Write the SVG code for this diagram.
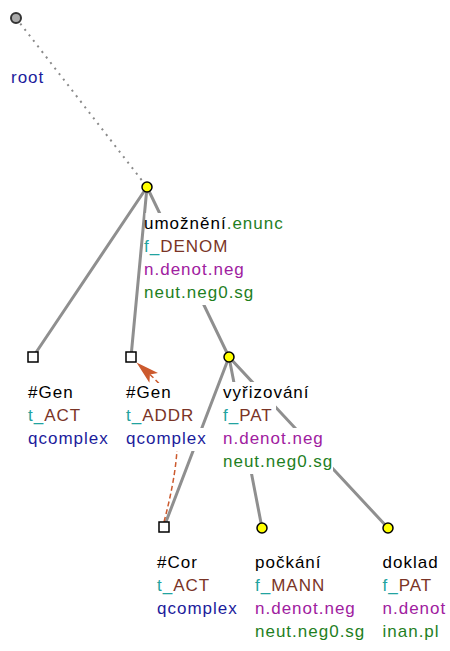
<svg xmlns="http://www.w3.org/2000/svg" width="450" height="651" viewBox="0 0 450 651">
<style>
text{font-family:"Liberation Sans",Arial,sans-serif;font-size:17px;letter-spacing:1px}
.bg{fill:#fff}
.k{fill:#000}.g{fill:#1f7f1f}.t{fill:#22a3a0}.b{fill:#7a3426}.m{fill:#a020a0}.n{fill:#1c1c9c}
.e{stroke:#8f8f8f;stroke-width:3;fill:none;stroke-linecap:round}
.y{fill:#ffff00;stroke:#000;stroke-width:1.5}
.s{fill:#fff;stroke:#000;stroke-width:1.5}
</style>
<rect width="450" height="651" fill="#fff"/>
<g id="connectors">
<line x1="16" y1="18" x2="147" y2="187" stroke="#8a8a8a" stroke-width="2" stroke-dasharray="2 5"/>
<line class="e" x1="147" y1="187" x2="33" y2="357"/>
<line class="e" x1="147" y1="187" x2="131" y2="357"/>
<line class="e" x1="147" y1="187" x2="229" y2="357"/>
<line class="e" x1="229" y1="357" x2="164" y2="527"/>
<line class="e" x1="229" y1="357" x2="262" y2="528"/>
<line class="e" x1="229" y1="357" x2="388" y2="528"/>
<path d="M164,522 C189.3,425.3 175,397 149.9,374.5" fill="none" stroke="#cc5a2e" stroke-width="1.5" stroke-dasharray="5 3"/>
<polygon points="136.5,362.5 158,372.9 149.9,374.5 149.4,382.7" fill="#cc5a2e"/>
</g>
<g id="n-root">
<circle cx="16" cy="18" r="5" fill="#aaa" stroke="#333" stroke-width="2"/>
<rect class="bg" x="11" y="67" width="35" height="23"/>
<text x="11" y="83" class="n">root</text>
</g>
<g id="n-umozneni">
<circle class="y" cx="147" cy="187" r="5"/>
<rect class="bg" x="145.5" y="213" width="140" height="23"/>
<rect class="bg" x="145.5" y="236" width="85" height="23"/>
<rect class="bg" x="145.5" y="259" width="102" height="23"/>
<rect class="bg" x="145.5" y="282" width="110" height="23"/>
<text x="144" y="229"><tspan class="k">umožnění</tspan><tspan class="g">.enunc</tspan></text>
<text x="144" y="252"><tspan class="t">f_</tspan><tspan class="b">DENOM</tspan></text>
<text x="144" y="275" class="m">n.denot.neg</text>
<text x="144" y="298" class="g">neut.neg0.sg</text>
</g>
<g id="n-gen1">
<rect class="s" x="28" y="352" width="10" height="10"/>
<rect class="bg" x="27" y="382" width="48" height="23"/>
<rect class="bg" x="27" y="405" width="55" height="23"/>
<rect class="bg" x="27" y="428" width="83" height="23"/>
<text x="28" y="398" class="k">#Gen</text>
<text x="28" y="421"><tspan class="t">t_</tspan><tspan class="b">ACT</tspan></text>
<text x="28" y="444" class="n">qcomplex</text>
</g>
<g id="n-gen2">
<rect class="s" x="126" y="352" width="10" height="10"/>
<rect class="bg" x="125" y="383" width="48" height="22"/>
<rect class="bg" x="125" y="405" width="70" height="23"/>
<rect class="bg" x="125" y="428" width="83" height="23"/>
<text x="126" y="398" class="k">#Gen</text>
<text x="126" y="421"><tspan class="t">t_</tspan><tspan class="b">ADDR</tspan></text>
<text x="126" y="444" class="n">qcomplex</text>
</g>
<g id="n-vyrizovani">
<circle class="y" cx="229" cy="357" r="5"/>
<rect class="bg" x="222" y="382" width="88" height="23"/>
<rect class="bg" x="222" y="405" width="54" height="23"/>
<rect class="bg" x="222" y="428" width="103" height="23"/>
<rect class="bg" x="222" y="451" width="111" height="23"/>
<text x="223" y="398" class="k">vyřizování</text>
<text x="223" y="421"><tspan class="t">f_</tspan><tspan class="b">PAT</tspan></text>
<text x="223" y="444" class="m">n.denot.neg</text>
<text x="223" y="467" class="g">neut.neg0.sg</text>
</g>
<g id="n-cor">
<rect class="s" x="159" y="522" width="10" height="10"/>
<text x="157" y="568" class="k">#Cor</text>
<text x="157" y="591"><tspan class="t">t_</tspan><tspan class="b">ACT</tspan></text>
<text x="157" y="614" class="n">qcomplex</text>
</g>
<g id="n-pockani">
<circle class="y" cx="262" cy="528" r="5"/>
<text x="255" y="568" class="k">počkání</text>
<text x="255" y="591"><tspan class="t">f_</tspan><tspan class="b">MANN</tspan></text>
<text x="255" y="614" class="m">n.denot.neg</text>
<text x="255" y="637" class="g">neut.neg0.sg</text>
</g>
<g id="n-doklad">
<circle class="y" cx="388" cy="528" r="5"/>
<text x="382.5" y="568" class="k">doklad</text>
<text x="382.5" y="591"><tspan class="t">f_</tspan><tspan class="b">PAT</tspan></text>
<text x="382.5" y="614" class="m">n.denot</text>
<text x="382.5" y="637" class="g">inan.pl</text>
</g>
</svg>
